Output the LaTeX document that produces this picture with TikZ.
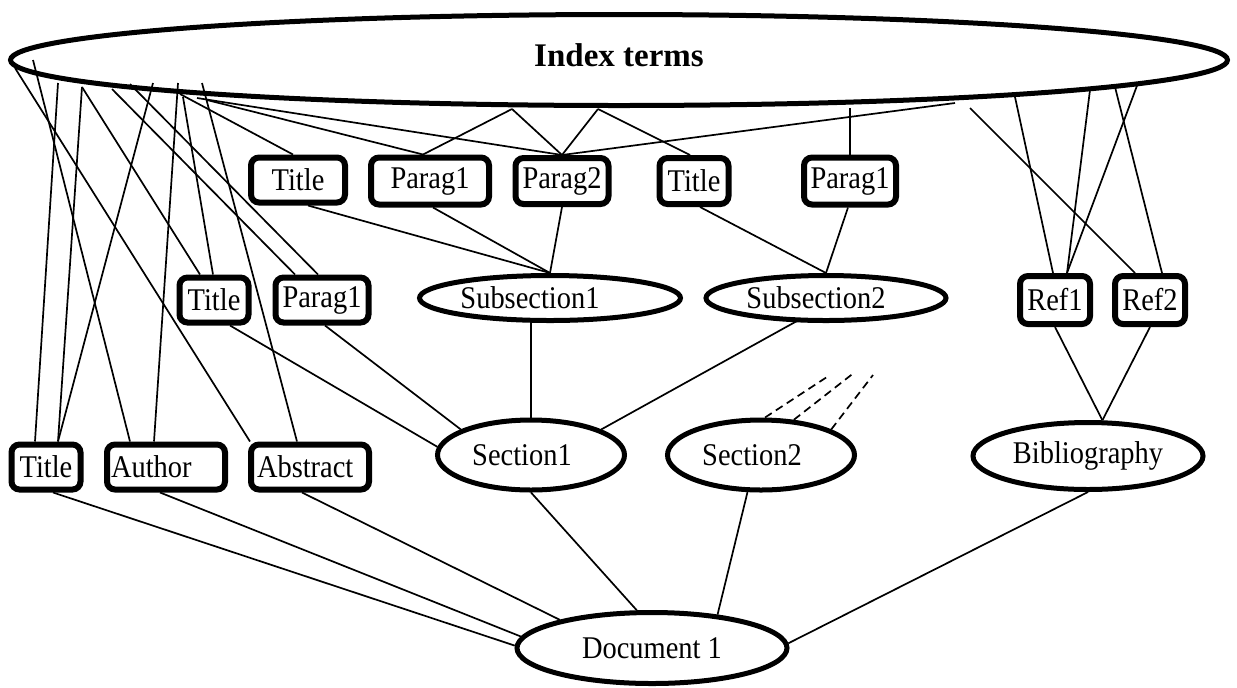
\documentclass[tikz,border=0pt]{standalone}
\usepackage{fontspec}
\setmainfont{Liberation Serif}
\newfontfamily\diagfont[FakeStretch=0.9]{Liberation Serif}
\usetikzlibrary{shapes.geometric,calc}
\begin{document}
\begin{tikzpicture}[x=0.5pt,y=-0.5pt,
  txt/.style={font=\diagfont\fontsize{15.8pt}{19pt}\selectfont},
  box/.style={txt, draw, line width=3pt, rounded corners=4pt, inner sep=0pt},
  oval/.style={txt, draw, ellipse, line width=2.5pt, inner sep=0pt},
  link/.style={line width=0.85pt},
  more/.style={line width=0.85pt, dash pattern=on 4pt off 2.5pt}]
\useasboundingbox (0,0) rectangle (1237,687);

% index term layer
\node[oval, minimum width=608.5pt, minimum height=45.5pt, text depth=5pt,
      font=\fontsize{16.5pt}{20pt}\selectfont\bfseries] (idx) at (619,60) {Index terms};

% paragraph level
\node[box, minimum width=47pt, minimum height=22.5pt] (tA) at (298,180) {Title};
\node[box, minimum width=59pt, minimum height=23.5pt] (pA1) at (430,181) {Parag1};
\node[box, minimum width=46.5pt, minimum height=23pt] (pA2) at (562,181) {Parag2};
\node[box, minimum width=34.5pt, minimum height=23pt] (tA2) at (694,181) {Title};
\node[box, minimum width=46pt, minimum height=23.5pt] (pA3) at (850,181) {Parag1};

% subsection level
\node[box, minimum width=34.5pt, minimum height=22.5pt] (tB) at (214,300) {Title};
\node[box, minimum width=46.5pt, minimum height=22.5pt] (pB) at (322,300) {Parag1};
\node[oval, minimum width=130.5pt, minimum height=22.5pt] (sub1) at (550,298) {Subsection1\hspace*{20pt}};
\node[oval, minimum width=120pt, minimum height=22.5pt] (sub2) at (826,298) {Subsection2\hspace*{10pt}};
\node[box, minimum width=35pt, minimum height=24pt] (r1) at (1055,300) {Ref1};
\node[box, minimum width=35pt, minimum height=24pt] (r2) at (1150,300) {Ref2};

% section level
\node[box, minimum width=34.5pt, minimum height=22.5pt] (tC) at (46,467) {Title};
\node[box, minimum width=59pt, minimum height=22.5pt, text width=55pt, align=left] (au) at (166,467) {Author};
\node[box, minimum width=59pt, minimum height=22.5pt, text width=53pt, align=left] (ab) at (310,467) {Abstract};
\node[oval, minimum width=93.5pt, minimum height=35pt] (sec1) at (531,455) {Section1\hspace*{9pt}};
\node[oval, minimum width=93.5pt, minimum height=35pt] (sec2) at (761,455) {Section2\hspace*{9pt}};
\node[oval, minimum width=115pt, minimum height=33.5pt] (bib) at (1088,456) {Bibliography};

% document
\node[oval, minimum width=135pt, minimum height=35.5pt] (doc) at (652,648) {Document 1};

% attachment points on the index-term ellipse
\coordinate (k1) at (15,68);
\coordinate (k2) at (33,60);
\coordinate (k3) at (58,83);
\coordinate (k4) at (82,87);
\coordinate (k5) at (112,89);
\coordinate (k6) at (130,84);
\coordinate (k7) at (153,83);
\coordinate (k8) at (178,83);
\coordinate (k9) at (183,97);
\coordinate (k10) at (202,83);
\coordinate (k11) at (180,94);
\coordinate (k12) at (197,98);
\coordinate (k13) at (207,100);
\coordinate (k14) at (512,109);
\coordinate (k15) at (598,109);
\coordinate (k16) at (955,103);
\coordinate (k17) at (850,108);
\coordinate (k18) at (970,108);
\coordinate (k19) at (1015,97);
\coordinate (k20) at (1090,90);
\coordinate (k21) at (1138,83);
\coordinate (k22) at (1115,87);

% loose ends of the further section links
\coordinate (d1) at (830,375);
\coordinate (d2) at (855,372);
\coordinate (d3) at (873,375);

% index terms to elements
\draw[link] (k1) -- ($(ab.north)+(-60,0)$);
\draw[link] (k2) -- ($(au.north)+(-36,0)$);
\draw[link] (k3) -- ($(tC.north)+(-11,0)$);
\draw[link] (k4) -- ($(tC.north)+(12,0)$);
\draw[link] (k4) -- ($(tB.north)+(-14,0)$);
\draw[link] (k5) -- ($(pB.north)+(-27,0)$);
\draw[link] (k6) -- ($(pB.north)+(-4,0)$);
\draw[link] (k7) -- ($(tC.north)+(12,0)$);
\draw[link] (k8) -- ($(au.north)+(-12,0)$);
\draw[link] (k9) -- ($(tB.north)+(-1,0)$);
\draw[link] (k10) -- ($(ab.north)+(-13,0)$);
\draw[link] (k11) -- ($(tA.north)+(-5,0)$);
\draw[link] (k12) -- (pA2.north);
\draw[link] (k13) -- ($(pA1.north)+(-7,0)$);
\draw[link] (k14) -- ($(pA1.north)+(-7,0)$);
\draw[link] (k14) -- (pA2.north);
\draw[link] (k15) -- (pA2.north);
\draw[link] (k15) -- ($(tA2.north)+(-4,0)$);
\draw[link] (k16) -- (pA2.north);
\draw[link] (k17) -- (pA3.north);
\draw[link] (k18) -- ($(r2.north)+(-15,0)$);
\draw[link] (k19) -- ($(r1.north)+(-2,0)$);
\draw[link] (k20) -- ($(r1.north)+(12,0)$);
\draw[link] (k21) -- ($(r1.north)+(12,0)$);
\draw[link] (k22) -- ($(r2.north)+(12,0)$);

% paragraphs to subsections
\draw[link] ($(tA.south)+(10,0)$) -- (sub1.north);
\draw[link] ($(pA1.south)+(3,0)$) -- (sub1.north);
\draw[link] (pA2.south) -- (sub1.north);
\draw[link] ($(tA2.south)+(6,0)$) -- (sub2.north);
\draw[link] ($(pA3.south)+(-2,0)$) -- (sub2.north);

% subsections to section
\draw[link] ($(tB.south)+(16,0)$) -- (sec1.175);
\draw[link] ($(pB.south)+(3,0)$) -- (sec1.160);
\draw[link] ($(sub1.south)+(-19,0)$) -- (sec1.north);
\draw[link] ($(sub2.south)+(-29,-2)$) -- (sec1.20);
\draw[link] (r1.south) -- (bib.68);
\draw[link] (r2.south) -- (bib.68);

% further links of section 2
\draw[more] ($(sec2.north)+(4,0)$) -- (d1);
\draw[more] (sec2.47) -- (d2);
\draw[more] (sec2.20) -- (d3);

% document parts
\draw[link] ($(tC.south)+(7,0)$) -- (doc.179);
\draw[link] ($(au.south)+(-6,0)$) -- (doc.175);
\draw[link] ($(ab.south)+(-8,0)$) -- (doc.163);
\draw[link] (sec1.south) -- (doc.112);
\draw[link] (sec2.250) -- (doc.27);
\draw[link] (bib.south) -- (doc.2);
\end{tikzpicture}
\end{document}
